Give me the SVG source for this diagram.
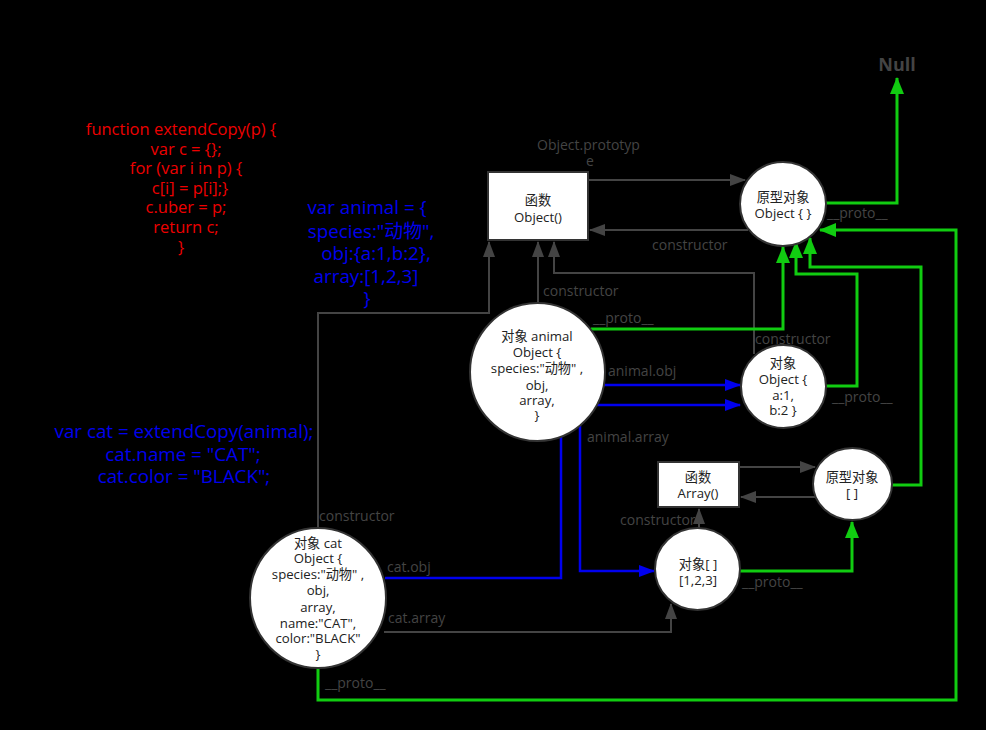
<svg xmlns="http://www.w3.org/2000/svg" width="986" height="730" viewBox="0 0 986 730">
<defs>
<style>
.node{fill:#fff;stroke:#333;stroke-width:2}
.nt{font-family:"Open Sans","Noto Sans CJK SC",sans-serif;font-size:13.2px;fill:#222;text-anchor:middle}
.lbl{font-family:"Open Sans","Noto Sans CJK SC",sans-serif;font-size:14px;fill:#444}
.red{font-family:"Open Sans","Noto Sans CJK SC",sans-serif;font-size:16.5px;fill:#e00;text-anchor:middle}
.blue{font-family:"Open Sans","Noto Sans CJK SC",sans-serif;font-size:18.8px;fill:#00e;text-anchor:middle}
.g{fill:none;stroke:#444;stroke-width:2;marker-end:url(#ag)}
.b{fill:none;stroke:#00e;stroke-width:2.5;marker-end:url(#ab)}
.gr{fill:none;stroke:#1c1;stroke-width:3;marker-end:url(#agr)}
</style>
<marker id="ag" markerUnits="userSpaceOnUse" markerWidth="16" markerHeight="12" refX="15" refY="6" orient="auto"><path d="M0,0 L16,6 L0,12 Z" fill="#444"/></marker>
<marker id="ab" markerUnits="userSpaceOnUse" markerWidth="16" markerHeight="12" refX="15" refY="6" orient="auto"><path d="M0,0 L16,6 L0,12 Z" fill="#00e"/></marker>
<marker id="agr" markerUnits="userSpaceOnUse" markerWidth="17" markerHeight="14" refX="16" refY="7" orient="auto"><path d="M0,0 L17,7 L0,14 Z" fill="#1c1"/></marker>
</defs>
<rect x="0" y="0" width="986" height="730" fill="#000"/>

<g id="code-extend">
<text class="red" x="181" y="135">function extendCopy(p) {</text>
<text class="red" x="186" y="155">var c = {};</text>
<text class="red" x="186" y="174">for (var i in p) {</text>
<text class="red" x="190" y="194">c[i] = p[i];}</text>
<text class="red" x="186" y="213">c.uber = p;</text>
<text class="red" x="186" y="233">return c;</text>
<text class="red" x="181" y="253">}</text>
</g>
<g id="code-animal">
<text class="blue" x="367" y="214">var animal = {</text>
<text class="blue" x="371" y="238">species:"动物",</text>
<text class="blue" x="376" y="260">obj:{a:1,b:2},</text>
<text class="blue" x="366" y="283">array:[1,2,3]</text>
<text class="blue" x="367" y="305">}</text>
</g>
<g id="code-cat">
<text class="blue" x="184" y="438">var cat = extendCopy(animal);</text>
<text class="blue" x="183" y="461">cat.name = "CAT";</text>
<text class="blue" x="184" y="483">cat.color = "BLACK";</text>
</g>

<g id="connectors">
<path class="g" d="M588,180 H745"/>
<path class="g" d="M748,230 H590"/>
<path class="g" d="M318,528 V313 H489 V242"/>
<path class="g" d="M538,303 V242"/>
<path class="g" d="M754,354 V273 H554 V242"/>
<path class="g" d="M739,467 H815"/>
<path class="g" d="M816,497 H741"/>
<path class="g" d="M699,528 V509"/>
<path class="g" d="M384,632 H671 V604"/>
<path class="b" d="M604,385 H740"/>
<path class="b" d="M580,426 V571 H654"/>
<path class="b" d="M385,578 H561 V405 H740"/>
<path class="gr" d="M826,203 H897 V78"/>
<path class="gr" d="M591,329 H783 V247"/>
<path class="gr" d="M826,386 H857 V274 H796 V242"/>
<path class="gr" d="M892,485 H921 V267 H810 V238"/>
<path class="gr" d="M318,668 V700 H956 V230 H820"/>
<path class="gr" d="M740,571 H852 V522"/>
</g>

<g id="labels">
<text class="lbl" x="537" y="150">Object.prototyp</text>
<text class="lbl" x="586" y="166">e</text>
<text class="lbl" x="652" y="250">constructor</text>
<text class="lbl" x="543" y="296">constructor</text>
<text class="lbl" x="593" y="323">__proto__</text>
<text class="lbl" x="827" y="218">__proto__</text>
<text class="lbl" x="755" y="344">constructor</text>
<text class="lbl" x="608" y="376">animal.obj</text>
<text class="lbl" x="832" y="402">__proto__</text>
<text class="lbl" x="587" y="442">animal.array</text>
<text class="lbl" x="620" y="525">constructor</text>
<text class="lbl" x="742" y="587">__proto__</text>
<text class="lbl" x="319" y="521">constructor</text>
<text class="lbl" x="387" y="572">cat.obj</text>
<text class="lbl" x="388" y="623">cat.array</text>
<text class="lbl" x="325" y="688">__proto__</text>
</g>

<g id="null"><text x="897" y="71" font-family="'Open Sans',sans-serif" font-size="18" font-weight="bold" fill="#444" text-anchor="middle">Null</text></g>

<g id="object-fn">
<rect class="node" x="488" y="172" width="100" height="68"/>
<text class="nt" x="538" y="205">函数</text>
<text class="nt" x="538" y="222">Object()</text>
</g>
<g id="object-proto">
<ellipse class="node" cx="783" cy="204" rx="43" ry="42"/>
<text class="nt" x="783" y="202">原型对象</text>
<text class="nt" x="783" y="218">Object { }</text>
</g>
<g id="animal">
<ellipse class="node" cx="537.5" cy="372" rx="67.5" ry="69"/>
<text class="nt" x="537" y="341">对象 animal</text>
<text class="nt" x="537" y="357">Object {</text>
<text class="nt" x="537" y="373">species:"动物" ,</text>
<text class="nt" x="537" y="390">obj,</text>
<text class="nt" x="537" y="405">array,</text>
<text class="nt" x="537" y="420">}</text>
</g>
<g id="obj-ab">
<ellipse class="node" cx="783.5" cy="386.5" rx="42.5" ry="41.5"/>
<text class="nt" x="783" y="368">对象</text>
<text class="nt" x="783" y="384">Object {</text>
<text class="nt" x="783" y="400">a:1,</text>
<text class="nt" x="783" y="415">b:2 }</text>
</g>
<g id="array-fn">
<rect class="node" x="658" y="462" width="81" height="45"/>
<text class="nt" x="698" y="482">函数</text>
<text class="nt" x="698" y="498">Array()</text>
</g>
<g id="array-proto">
<ellipse class="node" cx="852.5" cy="484" rx="39.5" ry="36"/>
<text class="nt" x="852" y="482">原型对象</text>
<text class="nt" x="852" y="498">[  ]</text>
</g>
<g id="array-obj">
<ellipse class="node" cx="697.5" cy="569" rx="42.5" ry="41"/>
<text class="nt" x="698" y="569">对象[  ]</text>
<text class="nt" x="698" y="585">[1,2,3]</text>
</g>
<g id="cat">
<ellipse class="node" cx="318" cy="598" rx="68" ry="70"/>
<text class="nt" x="318" y="548">对象 cat</text>
<text class="nt" x="318" y="563">Object {</text>
<text class="nt" x="318" y="579">species:"动物" ,</text>
<text class="nt" x="318" y="595">obj,</text>
<text class="nt" x="318" y="612">array,</text>
<text class="nt" x="318" y="628">name:"CAT",</text>
<text class="nt" x="318" y="643">color:"BLACK"</text>
<text class="nt" x="318" y="659">}</text>
</g>
</svg>
